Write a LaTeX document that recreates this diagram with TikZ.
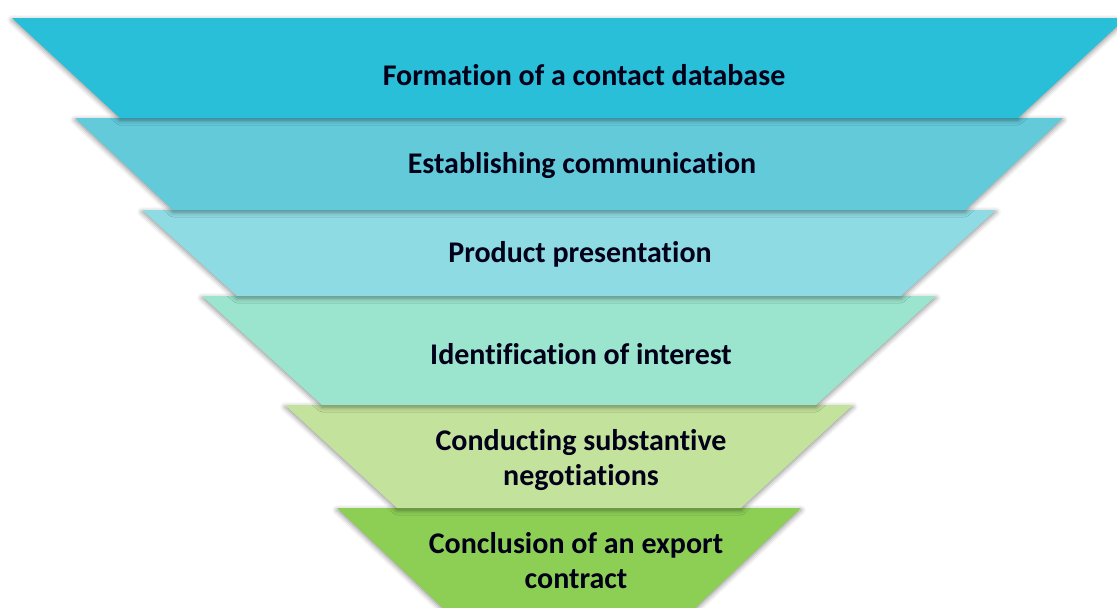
\documentclass[tikz,border=0pt]{standalone}
\usepackage{fontspec}
\setmainfont[Ligatures=NoCommon]{Carlito}
\usetikzlibrary{shadows.blur}
\definecolor{bandA}{RGB}{41,191,217}
\definecolor{bandB}{RGB}{99,202,218}
\definecolor{bandC}{RGB}{143,219,228}
\definecolor{bandD}{RGB}{155,228,205}
\definecolor{bandE}{RGB}{195,226,155}
\definecolor{bandF}{RGB}{141,207,85}
\tikzset{
  band/.style={blur shadow={shadow xshift=0pt,shadow yshift=-2pt,
      shadow blur radius=5pt,shadow opacity=45}},
  bandtext/.style={font=\fontsize{30}{35}\selectfont\bfseries,
      text=black!90!blue,align=center,inner sep=0pt}
}
\begin{document}
\begin{tikzpicture}[x=1pt,y=-1pt]
    \useasboundingbox (0,0) rectangle (1117,608);
    \clip (0,0) rectangle (1117,608);
    % funnel, narrow end first
    \fill[band,bandF] (337,508) -- (801,508) -- (693,610) -- (445,610) -- cycle;
    \fill[band,bandE] (285,405) -- (853,405) -- (741,508) -- (397,508) -- cycle;
    \fill[band,bandD] (202,296) -- (936,296) -- (816,405) -- (322,405) -- cycle;
    \fill[band,bandC] (142,210) -- (996,210) -- (901,296) -- (237,296) -- cycle;
    \fill[band,bandB] (75,118) -- (1063,118) -- (965,210) -- (173,210) -- cycle;
    \fill[band,bandA] (12,18) -- (1126,18) -- (1018,118) -- (120,118) -- cycle;
    % stage names
    \node[bandtext] (formation) at (584,75) {Formation of a contact database};
    \node[bandtext] (communication) at (582,166) {Establishing communication};
    \node[bandtext] (presentation) at (580,254) {Product presentation};
    \node[bandtext] (interest) at (581,354) {Identification of interest};
    \node[bandtext] (negotiations) at (581,460) {Conducting substantive\\negotiations};
    \node[bandtext] (contract) at (576,561) {Conclusion of an export\\contract};
\end{tikzpicture}
\end{document}
